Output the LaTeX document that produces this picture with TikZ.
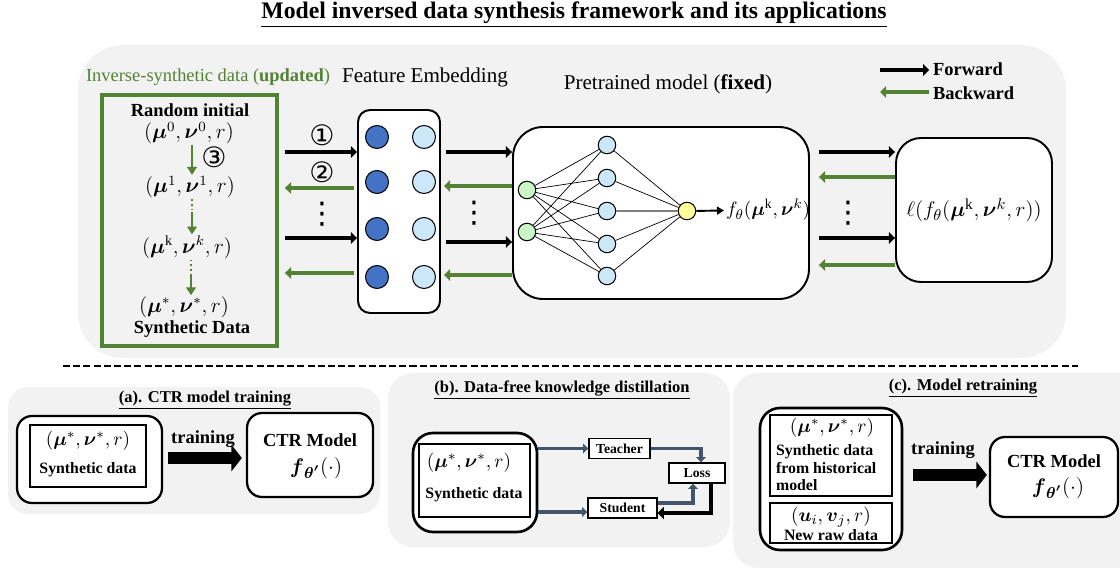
\documentclass[tikz,border=0pt]{standalone}
\usepackage{amsmath}
\usepackage{amssymb}
\usepackage{fontspec}
\setmainfont{Liberation Serif}
\newfontfamily\circfont{DejaVu Sans}
\usetikzlibrary{arrows.meta,positioning}
\definecolor{tgreen}{HTML}{548235}
\definecolor{panelgray}{HTML}{F2F2F2}
\definecolor{embdark}{HTML}{4472C4}
\definecolor{emblight}{HTML}{CCE8F8}
\definecolor{nngreen}{HTML}{CCF5C8}
\definecolor{nnyellow}{HTML}{FFFF99}
\definecolor{slate}{HTML}{44546A}
\tikzset{
  txt/.style={inner sep=1pt, font=\fontsize{10.5}{12.6}\selectfont},
  btxt/.style={inner sep=1pt, font=\fontsize{10.5}{12.6}\selectfont\bfseries},
  bigtxt/.style={inner sep=1pt, font=\fontsize{12}{14}\selectfont},
  ttl/.style={inner sep=1pt, font=\fontsize{13.5}{16}\selectfont\bfseries},
  ttlsm/.style={inner sep=1pt, font=\fontsize{9.4}{11}\selectfont\bfseries},
  stxt/.style={inner sep=1pt, font=\fontsize{9}{10.2}\selectfont\bfseries},
  mtxt/.style={inner sep=1pt, font=\fontsize{11}{13}\selectfont},
  gmtxt/.style={inner sep=0.5pt, font=\fontsize{12}{14}\selectfont},
  ftxt/.style={inner sep=1pt, font=\fontsize{13}{15}\selectfont},
  circnum/.style={inner sep=0pt, font=\circfont\fontsize{16}{18}\selectfont},
  vdot/.style={inner sep=0pt, font=\circfont\fontsize{17}{19}\selectfont},
  synbox/.style={draw=tgreen, line width=2.2pt, minimum width=3.5cm, minimum height=5.02cm, inner sep=0pt},
  embbox/.style={draw, fill=white, line width=1.1pt, rounded corners=0.24cm, minimum width=1.64cm, minimum height=4.06cm, inner sep=0pt},
  embdot/.style={circle, draw, line width=0.6pt, minimum size=0.46cm, inner sep=0pt},
  edark/.style={embdot, fill=embdark},
  elight/.style={embdot, fill=emblight},
  pmbox/.style={draw, fill=white, line width=1.1pt, rounded corners=0.6cm, minimum width=5.92cm, minimum height=3.44cm, inner sep=0pt},
  lossbox/.style={draw, fill=white, line width=1.1pt, rounded corners=0.5cm, minimum width=3.12cm, minimum height=2.88cm, inner sep=0pt, font=\fontsize{12.5}{15}\selectfont},
  neuron/.style={circle, draw, line width=0.6pt, minimum size=0.35cm, inner sep=0pt},
  nin/.style={neuron, fill=nngreen},
  nhid/.style={neuron, fill=emblight},
  nout/.style={neuron, fill=nnyellow},
  nnedge/.style={line width=0.4pt},
  fwd/.style={line width=2.4pt, -{Triangle[length=3.5pt,width=6.5pt]}},
  bwd/.style={tgreen, line width=2.4pt, -{Triangle[length=3.5pt,width=6.5pt]}},
  upd/.style={tgreen, line width=1.3pt, -{Triangle[length=4.5pt,width=5.5pt]}},
  upddot/.style={tgreen, line width=0.8pt, dotted},
  outbox/.style={draw, fill=white, line width=1.3pt, rounded corners=0.3cm, inner sep=0pt},
  inbox/.style={draw, line width=0.7pt, inner sep=0pt},
  bigarr/.style={line width=7pt, -{Triangle[length=6pt,width=15pt]}},
  kdbox/.style={draw, fill=white, line width=0.8pt, minimum height=0.4cm, inner sep=0pt, font=\fontsize{7.8}{9}\selectfont\bfseries},
  kdarr/.style={slate, line width=2pt, -{Triangle[length=3pt,width=5.5pt]}},
  kdback/.style={line width=2.8pt, -{Triangle[length=3.5pt,width=7pt]}},
  sepline/.style={line width=1.6pt, dash pattern=on 4pt off 1.8pt}
}
\begin{document}
\begin{tikzpicture}[x=0.02cm, y=-0.02cm]
\useasboundingbox (0,0) rectangle (1120,578);
\clip (0,0) rectangle (1120,578);
\fill[panelgray, rounded corners=0.9cm] (78,45) rectangle (1066,358);
\fill[panelgray, rounded corners=0.4cm] (8,387) rectangle (380,514);
\fill[panelgray, rounded corners=0.5cm] (388,373) rectangle (730,547);
\fill[panelgray, rounded corners=0.5cm] (733,373) rectangle (1160,568);
\draw[sepline] (63,366) -- (1078,366);

\node[ttl] (title) at (574,15) {\underline{Model inversed data synthesis framework and its applications}};
\node[txt, tgreen] (invlbl) at (208,77) {Inverse-synthetic data (\textbf{updated})};
\node[bigtxt] (femb) at (425,77) {Feature Embedding};
\node[bigtxt] (pmlbl) at (668,84) {Pretrained model (\textbf{fixed})};

\node[btxt, anchor=west] (lgfw) at (931,69) {Forward};
\node[btxt, anchor=west] (lgbw) at (931,93) {Backward};
\coordinate (lgf) at (880,70);
\coordinate (lgb) at (880,92);
\draw[fwd, shorten >=1pt] (lgf) -- (lgf -| lgfw.west);
\draw[bwd, shorten <=1pt] (lgb -| lgbw.west) -- (lgb);

% inverse-synthetic data
\node[synbox] (syn) at (189.5,220.5) {};
\node[btxt] (rinit) at (190,110) {Random initial};
\node[gmtxt] (d0) at (189,133) {$(\boldsymbol{\mu}^0,\boldsymbol{\nu}^0,r)$};
\node[gmtxt] (d1) at (190,187) {$(\boldsymbol{\mu}^1,\boldsymbol{\nu}^1,r)$};
\node[gmtxt] (dk) at (187,247) {$(\boldsymbol{\mu}^{\mathrm{k}},\boldsymbol{\nu}^{k},r)$};
\node[gmtxt] (ds) at (184,307) {$(\boldsymbol{\mu}^{*},\boldsymbol{\nu}^{*},r)$};
\node[btxt] (synlbl) at (192,329) {Synthetic Data};
\coordinate (u0) at (192,147);
\coordinate (m1) at (192,212);
\coordinate (m2) at (191,274);
\draw[upd] (d0.south -| u0) -- (d1.north -| u0);
\draw[upddot] (d1.south -| m1) -- (m1);
\draw[upd] (m1) -- (dk.north -| m1);
\draw[upddot] (dk.south -| m2) -- (m2);
\draw[upd] (m2) -- (ds.north -| m2);
\node[circnum] (n3) at (214,157) {③};

% feature embedding
\node[embbox] (emb) at (399,211.5) {};
\foreach \y [count=\i] in {137,182,229,277} {
  \node[edark] (ed\i) at (377,\y) {};
  \node[elight] (el\i) at (424,\y) {};
}
\draw[fwd, shorten <=0.12cm] (syn.east |- 0,152) -- (emb.west |- 0,152);
\draw[bwd, shorten <=0.06cm, shorten >=0.12cm] (emb.west |- 0,188) -- (syn.east |- 0,188);
\draw[fwd, shorten <=0.12cm] (syn.east |- 0,238) -- (emb.west |- 0,238);
\draw[bwd, shorten <=0.06cm, shorten >=0.12cm] (emb.west |- 0,273) -- (syn.east |- 0,273);
\node[circnum] (n1) at (322,135) {①};
\node[circnum] (n2) at (322,172) {②};
\node[vdot] (dl) at (322,214) {⋮};

% pretrained model
\node[pmbox] (pm) at (661,213) {};
\draw[fwd, shorten <=0.1cm] (emb.east |- 0,152) -- (pm.west |- 0,152);
\draw[bwd, shorten >=0.06cm] (pm.west |- 0,186) -- (emb.east |- 0,186);
\draw[fwd, shorten <=0.1cm] (emb.east |- 0,242) -- (pm.west |- 0,242);
\draw[bwd, shorten >=0.06cm] (pm.west |- 0,275) -- (emb.east |- 0,275);
\node[vdot] (dm) at (474,213) {⋮};

\node[nin] (ni1) at (527,190) {};
\node[nin] (ni2) at (527,232) {};
\foreach \y [count=\j] in {145,178,211,244,276}
  \node[nhid] (nh\j) at (607,\y) {};
\node[nout] (no) at (687,211) {};
\foreach \i in {1,2}
  \foreach \j in {1,...,5}
    \draw[nnedge] (ni\i) -- (nh\j);
\foreach \j in {1,2,4,5}
  \draw[nnedge] (nh\j) -- (no);
\draw[nnedge, gray, line width=0.8pt] (nh3) -- (no);
\node[mtxt, anchor=west] (fout) at (724,210) {$f_\theta(\boldsymbol{\mu}^{\mathrm{k}},\boldsymbol{\nu}^{k})$};
\draw[line width=1.1pt, -{Triangle[length=4pt,width=4.5pt]}] (no) -- (fout);

% loss
\node[lossbox] (loss) at (974,210) {$\ell(f_\theta(\boldsymbol{\mu}^{\mathrm{k}},\boldsymbol{\nu}^{k},r))$};
\draw[fwd, shorten <=0.18cm] (pm.east |- 0,152) -- (loss.west |- 0,152);
\draw[bwd, shorten >=0.18cm] (loss.west |- 0,177) -- (pm.east |- 0,177);
\draw[fwd, shorten <=0.18cm] (pm.east |- 0,238) -- (loss.west |- 0,238);
\draw[bwd, shorten >=0.18cm] (loss.west |- 0,265) -- (pm.east |- 0,265);
\node[vdot] (dr) at (848,213) {⋮};

% (a)
\node[ttlsm] (ttla) at (205,400) {\underline{(a). CTR model training}};
\node[outbox, minimum width=2.9cm, minimum height=1.74cm] (aout) at (89.5,459.5) {};
\node[inbox, minimum width=2.32cm, minimum height=1.24cm] (ain) at (88,456) {};
\node[mtxt] (adat) at (88,441) {$(\boldsymbol{\mu}^{*},\boldsymbol{\nu}^{*},r)$};
\node[stxt] (alb) at (88,470) {Synthetic data};
\node[outbox, minimum width=2.52cm, minimum height=1.68cm] (actr) at (310,455) {};
\node[btxt] (actrl) at (310,440) {CTR Model};
\node[ftxt] (actrf) at (316,468) {$\boldsymbol{f}_{\boldsymbol{\theta'}}(\cdot)$};
\draw[bigarr, shorten <=0.1cm, shorten >=0.08cm] (aout.east |- 0,458) -- (actr.west |- 0,458);
\node[btxt] (atr) at (203,439) {training};

% (b)
\node[ttlsm] (ttlb) at (562,390) {\underline{(b). Data-free knowledge distillation}};
\node[outbox, line width=1.5pt, rounded corners=0.4cm, minimum width=2.48cm, minimum height=1.98cm] (bout) at (475,482.5) {};
\node[inbox, minimum width=2.22cm, minimum height=1.46cm] (bin) at (474.5,480.5) {};
\node[mtxt] (bdat) at (469,463) {$(\boldsymbol{\mu}^{*},\boldsymbol{\nu}^{*},r)$};
\node[stxt] (blb) at (474,495) {Synthetic data};
\node[kdbox, minimum width=1.22cm] (bteach) at (619.5,448.5) {Teacher};
\node[kdbox, minimum width=1.12cm] (bloss) at (697,473) {Loss};
\node[kdbox, minimum width=1.38cm] (bstud) at (622.5,508) {Student};
\draw[kdarr] (bout.east |- bteach.west) -- (bteach.west);
\draw[kdarr] (bteach.east) -| ([xshift=0.08cm]bloss.north);
\draw[kdarr] ([yshift=-0.08cm]bout.east |- bstud.west) -- ([yshift=-0.08cm]bstud.west);
\draw[kdarr] ([yshift=0.1cm]bstud.east) -| ([xshift=-0.08cm]bloss.south);
\draw[kdback] ([xshift=0.28cm]bloss.south) |- ([yshift=-0.1cm]bstud.east);

% (c)
\node[ttlsm] (ttlc) at (963,388) {\underline{(c). Model retraining}};
\node[outbox, line width=1.5pt, rounded corners=0.4cm, minimum width=2.84cm, minimum height=2.84cm] (cout) at (831,479) {};
\node[inbox, minimum width=2.44cm, minimum height=1.62cm] (cin1) at (831,455.5) {};
\node[inbox, minimum width=2.44cm, minimum height=0.8cm] (cin2) at (831,523) {};
\node[mtxt] (cdat) at (832,428) {$(\boldsymbol{\mu}^{*},\boldsymbol{\nu}^{*},r)$};
\node[stxt, align=left, anchor=north west] (clb) at (774,442) {Synthetic data\\from historical\\model};
\node[mtxt] (craw) at (831,517) {$(\boldsymbol{u}_i,\boldsymbol{v}_j,r)$};
\node[stxt] (crawl) at (831,535) {New raw data};
\node[outbox, minimum width=2.56cm, minimum height=1.6cm] (cctr) at (1054,477) {};
\node[btxt] (cctrl) at (1054,461) {CTR Model};
\node[ftxt] (cctrf) at (1058,488) {$\boldsymbol{f}_{\boldsymbol{\theta'}}(\cdot)$};
\draw[bigarr, shorten <=0.2cm, shorten >=0.04cm] (cout.east |- 0,475) -- (cctr.west |- 0,475);
\node[btxt] (ctr) at (943,450) {training};
\end{tikzpicture}
\end{document}
